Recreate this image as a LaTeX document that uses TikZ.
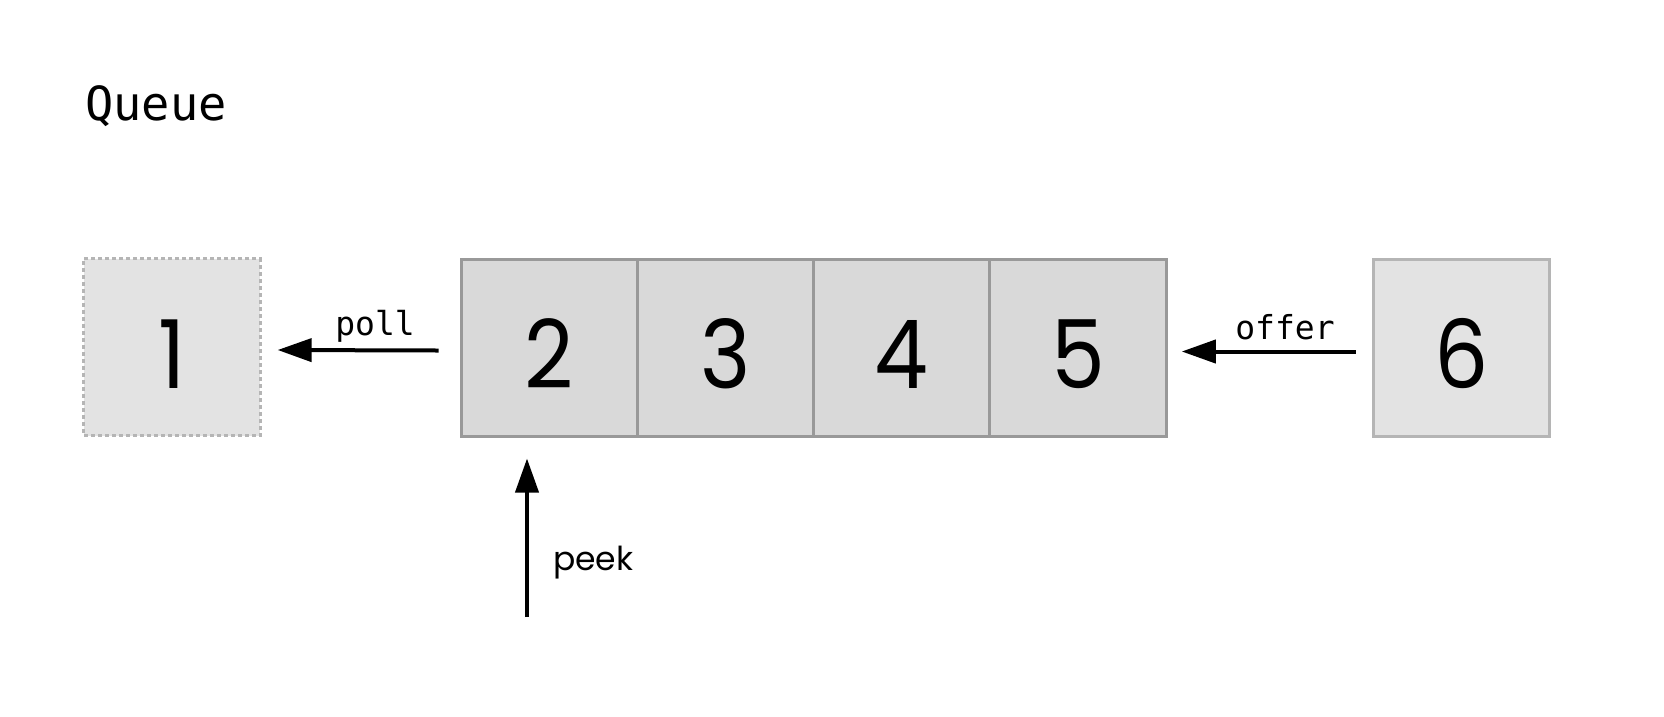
\documentclass[tikz,border=0pt]{standalone}
\usepackage{fontspec}
\usetikzlibrary{arrows.meta}
\newfontfamily\monof{DejaVu Sans Mono}
\newfontfamily\digitf{Poppins}
\newfontfamily\labelf{Poppins}
\definecolor{cellfill}{HTML}{D9D9D9}
\definecolor{celldraw}{HTML}{999999}
\definecolor{lightfill}{HTML}{E3E3E3}
\definecolor{lightdraw}{HTML}{B5B5B5}
\definecolor{dotdraw}{HTML}{B5B5B5}
\newcommand{\dg}[1]{\scalebox{0.9}[1]{#1}}
\tikzset{
  cellbox/.style={draw=celldraw, fill=cellfill, line width=3pt, minimum width=176.3pt, minimum height=177pt, inner sep=0pt, text height=82pt, text depth=0pt, font=\digitf\fontsize{95}{95}\selectfont},
  newbox/.style={cellbox, draw=lightdraw, fill=lightfill},
  gonebox/.style={cellbox, draw=dotdraw, fill=lightfill, dash pattern=on 4pt off 3pt},
  oparrow/.style={line width=4pt, -{Triangle[length=34pt,width=23pt]}},
  oplabel/.style={font=\monof\fontsize{33}{33}\selectfont, inner sep=0pt},
}
\begin{document}
\begin{tikzpicture}[x=1pt,y=-1pt]
\useasboundingbox (0,0) rectangle (1664,716);
\node[anchor=base west, inner sep=0pt, font=\monof\fontsize{47}{47}\selectfont] (title) at (85,120) {Queue};
\node[gonebox] (b1) at (172,347) {\dg{1}};
\node[cellbox] (c2) at (549.2,347.5) {\dg{2}};
\node[cellbox] (c3) at (725.5,347.5) {\dg{3}};
\node[cellbox] (c4) at (901.8,347.5) {\dg{4}};
\node[cellbox] (c5) at (1078.1,347.5) {\dg{5}};
\node[newbox] (b6) at (1461.5,347.5) {\dg{6}};
\draw[oparrow] ([xshift=-21pt,yshift=-3pt]c2.west) -- ([xshift=16pt,yshift=-3pt]b1.east);
\node[oplabel, anchor=base] (pl) at (375,335) {poll};
\draw[oparrow] ([xshift=-16pt,yshift=-4pt]b6.west) -- ([xshift=14pt,yshift=-4pt]c5.east);
\node[oplabel, anchor=base] (ol) at (1285,339) {offer};
\coordinate (pk) at (527,617);
\draw[oparrow] (pk) -- ([yshift=-21pt]pk |- c2.south);
\node[anchor=west, inner sep=0pt, font=\labelf\fontsize{33}{33}\selectfont] (pkl) at (553,563) {peek};
\end{tikzpicture}
\end{document}
